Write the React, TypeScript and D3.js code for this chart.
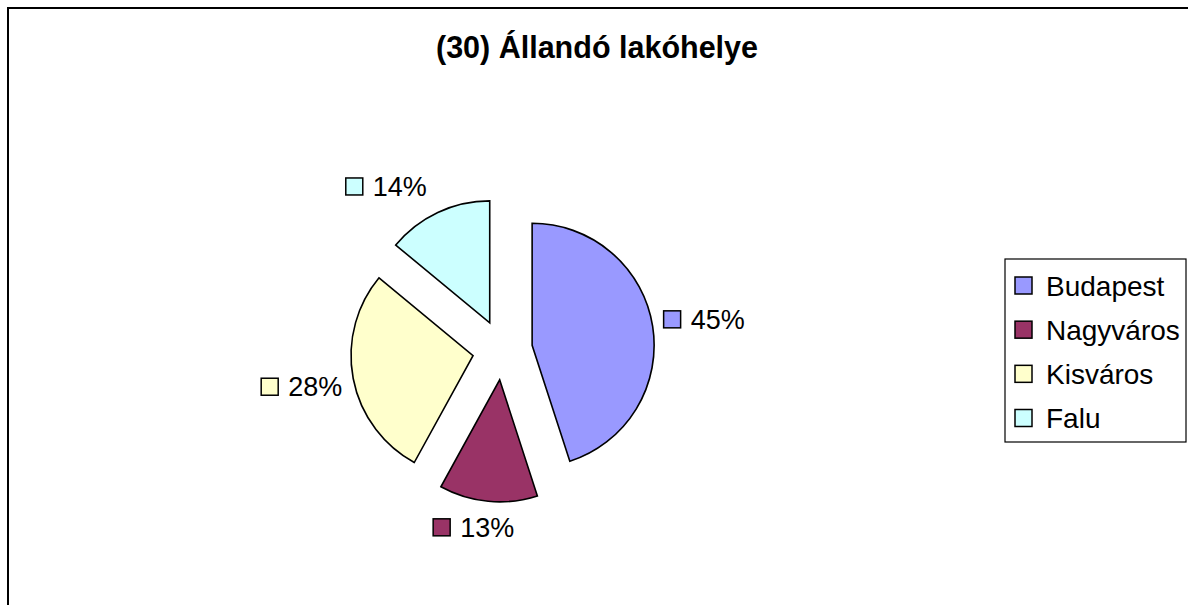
import React from "react";
import * as d3 from "d3";

const categories = ["Budapest", "Nagyváros", "Kisváros", "Falu"];
const values = [45, 13, 28, 14];
const colors = ["#9999FF", "#993366", "#FFFFCC", "#CCFFFF"];
const title = "(30) Állandó lakóhelye";

const W = 1188;
const H = 605;
const CX = 502.5;
const CY = 350;
const R = 122;
const EXPLODE = 30;
const FONT = "'Liberation Sans', Arial, Helvetica, sans-serif";
const LABEL_FS = 27;
const LEGEND_FS = 28;

export default function App() {
  const pie = d3.pie<number>().sort(null).value((d) => d).startAngle(0).endAngle(2 * Math.PI);
  const arcs = pie(values);
  const arcGen = d3.arc<d3.PieArcDatum<number>>().innerRadius(0).outerRadius(R);
  const total = d3.sum(values);
  const fmt = (v: number) => `${Math.round((v / total) * 100)}%`;

  const legendY = d3.scalePoint<string>().domain(categories).range([285.5, 418]);

  return (
    <svg
      width={W}
      height={H}
      style={{ position: "fixed", left: 0, top: 0, display: "block", background: "#fff" }}
      fontFamily={FONT}
    >
      <rect x={8} y={8} width={W + 50} height={H + 50} fill="#fff" stroke="#000" strokeWidth={2} />
      <text x={597} y={57.5} textAnchor="middle" fontWeight="bold" fontSize={30.5} fill="#000">
        {title}
      </text>
      {arcs.map((a, i) => {
        const mid = (a.startAngle + a.endAngle) / 2;
        const sx = Math.sin(mid);
        const sy = -Math.cos(mid);
        const ax = CX + EXPLODE * sx;
        const ay = CY + EXPLODE * sy;
        const mx = ax + R * sx;
        const my = ay + R * sy;
        const label = fmt(values[i]);
        const sq = 17;
        const gapSq = 10;
        const bw = sq + gapSq + 2.0 * LABEL_FS;
        const bh = 22;
        const gx = 11;
        const gy = 15;
        const kx = Math.max(-1, Math.min(1, sx * 3));
        const ky = Math.max(-1, Math.min(1, sy * 2));
        const lcx = mx + kx * (bw / 2 + gx);
        const lcy = my + ky * (bh / 2 + (Math.abs(ky) >= 1 ? gy : 11));
        const left = lcx - bw / 2;
        return (
          <g key={categories[i]}>
            <path
              d={arcGen(a) || ""}
              transform={`translate(${ax},${ay})`}
              fill={colors[i]}
              stroke="#000"
              strokeWidth={1.6}
              strokeLinejoin="miter"
            />
            <rect
              x={left}
              y={lcy - sq / 2}
              width={sq}
              height={sq}
              fill={colors[i]}
              stroke="#000"
              strokeWidth={1.5}
            />
            <text x={left + sq + gapSq} y={lcy + (0.716 * LABEL_FS) / 2} fontSize={LABEL_FS} fill="#000">
              {label}
            </text>
          </g>
        );
      })}
      <rect x={1005} y={259} width={181} height={183} fill="#fff" stroke="#000" strokeWidth={1.2} />
      {categories.map((c, i) => {
        const y = legendY(c) as number;
        return (
          <g key={c}>
            <rect x={1015} y={y - 8.5} width={17} height={17} fill={colors[i]} stroke="#000" strokeWidth={1.5} />
            <text x={1046} y={y + (0.716 * LEGEND_FS) / 2} fontSize={LEGEND_FS} fill="#000">
              {c}
            </text>
          </g>
        );
      })}
    </svg>
  );
}
